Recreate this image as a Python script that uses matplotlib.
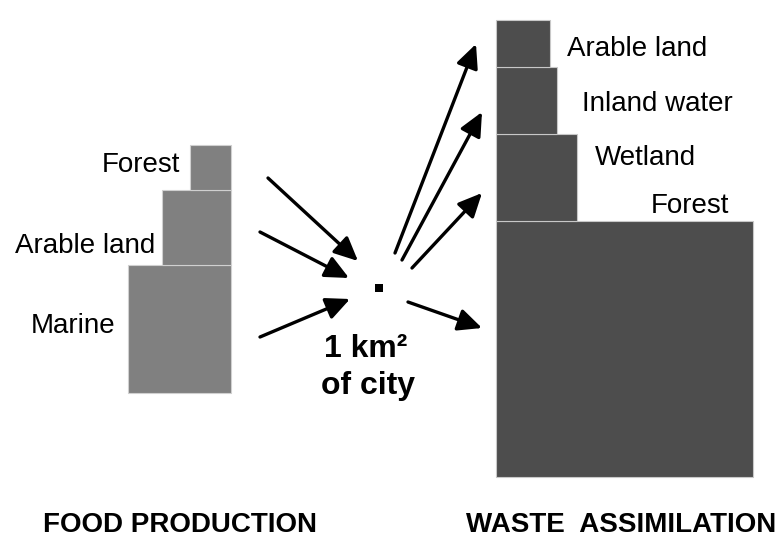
import matplotlib
matplotlib.use("Agg")
import matplotlib.pyplot as plt
from matplotlib.patches import Rectangle, FancyArrowPatch

# ---- data (areas shown as boxes; sizes in drawing units) ----
food_categories = ["Marine", "Arable land", "Forest"]
food_widths = [103, 69, 41]
food_heights = [128, 75, 45]

waste_categories = ["Forest", "Wetland", "Inland water", "Arable land"]
waste_widths = [257, 81, 61, 54]
waste_heights = [256, 87, 67, 47]

city_lines = ["1 km²", "of city"]
group_labels = ["FOOD PRODUCTION", "WASTE  ASSIMILATION"]

W, H = 781, 539
fig = plt.figure(figsize=(W / 100, H / 100), dpi=100)
ax = fig.add_axes([0, 0, 1, 1])
ax.set_xlim(0, W)
ax.set_ylim(H, 0)
ax.axis("off")

font = ["Liberation Sans", "DejaVu Sans"]

# ---- food production stack (right-aligned) ----
right_edge = 231
bottom = 393
food_label_pos = [(115, 333), (155, 253), (180, 172)]
for cat, w, h, (lx, ly) in zip(food_categories, food_widths, food_heights, food_label_pos):
    ax.add_patch(Rectangle((right_edge - w, bottom - h), w, h,
                           facecolor="#808080", edgecolor="#d0d0d0", lw=0.8))
    ax.text(lx, ly, cat, ha="right", va="baseline", fontsize=20,
            family=font, color="black")
    bottom -= h

# ---- waste assimilation stack (left-aligned) ----
left_edge = 496
bottom = 477
waste_label_pos = [(651, 213), (595, 165), (582, 111), (567, 56)]
for cat, w, h, (lx, ly) in zip(waste_categories, waste_widths, waste_heights, waste_label_pos):
    ax.add_patch(Rectangle((left_edge, bottom - h), w, h,
                           facecolor="#4d4d4d", edgecolor="#c8c8c8", lw=0.8))
    ax.text(lx, ly, cat, ha="left", va="baseline", fontsize=20,
            family=font, color="black")
    bottom -= h

# ---- the city square ----
ax.add_patch(Rectangle((375, 284), 8, 8, facecolor="black", edgecolor="none"))

# ---- arrows ----
arrows = [
    ((268, 178), (358, 261)),
    ((260, 232), (349, 278)),
    ((260, 337), (350, 299)),
    ((395, 253), (476, 44)),
    ((402, 260), (482, 112)),
    ((412, 268), (482, 193)),
    ((408, 302), (482, 328)),
]
for (x0, y0), (x1, y1) in arrows:
    ax.add_patch(FancyArrowPatch((x0, y0), (x1, y1),
                                 arrowstyle="-|>,head_length=0.9,head_width=0.42",
                                 mutation_scale=16, lw=2.4, color="black",
                                 shrinkA=0, shrinkB=0))

# ---- city label ----
ax.text(366, 357, city_lines[0], ha="center", va="baseline", fontsize=23,
        fontweight="bold", family=font)
ax.text(368, 394, city_lines[1], ha="center", va="baseline", fontsize=23,
        fontweight="bold", family=font)

# ---- group labels ----
for label, cx in zip(group_labels, [180, 621]):
    ax.text(cx, 532, label, ha="center", va="baseline", fontsize=20,
            fontweight="bold", family=font)

fig.savefig("out.png", dpi=100, facecolor="white")
